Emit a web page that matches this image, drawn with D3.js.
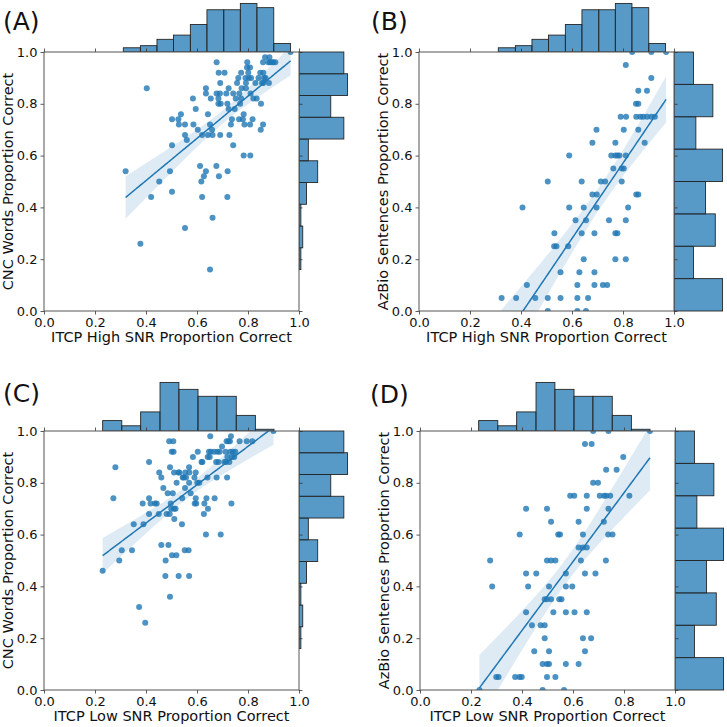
<!DOCTYPE html>
<html>
<head>
<meta charset="utf-8">
<script src="https://cdn.jsdelivr.net/npm/d3@7"></script>
<style>
	body { margin: 0; background: #fff; }
	text { font-family: "DejaVu Sans", sans-serif; fill: #111; }
</style>
</head>
<body>
<script>
//------------------------------ data ------------------------------

// (A) ITCP High SNR vs CNC Words
var panelA = [[0.32,0.54],[0.403,0.86],[0.378,0.26],[0.42,0.44],[0.452,0.50],[0.494,0.54],[0.502,0.46],[0.502,0.64],[0.502,0.74],[0.527,0.74],[0.529,0.72],[0.537,0.76],[0.553,0.72],[0.553,0.68],[0.56,0.66],[0.553,0.32],[0.584,0.82],[0.586,0.72],[0.595,0.78],[0.603,0.70],[0.612,0.56],[0.617,0.50],[0.62,0.44],[0.62,0.68],[0.627,0.52],[0.635,0.54],[0.635,0.86],[0.635,0.84],[0.643,0.76],[0.643,0.68],[0.651,0.72],[0.651,0.16],[0.654,0.82],[0.659,0.70],[0.661,0.68],[0.661,0.36],[0.676,0.56],[0.677,0.96],[0.677,0.84],[0.684,0.82],[0.684,0.80],[0.685,0.92],[0.686,0.52],[0.69,0.84],[0.691,0.88],[0.691,0.68],[0.693,0.80],[0.708,0.92],[0.715,0.84],[0.719,0.80],[0.72,0.54],[0.719,0.44],[0.724,0.86],[0.724,0.78],[0.727,0.68],[0.733,0.72],[0.737,0.74],[0.742,0.64],[0.742,0.84],[0.748,0.78],[0.752,0.82],[0.757,0.88],[0.762,0.90],[0.765,0.74],[0.766,0.84],[0.769,0.80],[0.773,0.82],[0.773,0.92],[0.775,0.86],[0.78,0.74],[0.783,0.60],[0.783,0.76],[0.786,0.72],[0.79,0.90],[0.792,0.86],[0.792,0.88],[0.796,0.94],[0.797,0.96],[0.801,0.92],[0.803,0.90],[0.808,0.72],[0.809,0.60],[0.808,0.94],[0.81,0.84],[0.812,0.90],[0.818,0.74],[0.821,0.82],[0.829,0.88],[0.834,0.82],[0.841,0.90],[0.848,0.92],[0.85,0.70],[0.851,0.80],[0.855,0.88],[0.859,0.96],[0.859,0.72],[0.86,0.92],[0.86,0.88],[0.863,0.90],[0.867,0.98],[0.869,0.90],[0.88,0.96],[0.884,0.98],[0.882,0.88],[0.886,0.96],[0.893,0.96],[0.899,0.96],[0.907,0.96],[0.967,1.00]];

// (B) ITCP High SNR vs AzBio Sentences
var panelB = [[0.324,0.05],[0.381,0.05],[0.456,0.05],[0.505,0.05],[0.555,0.05],[0.621,0.05],[0.663,0.05],
	[0.505,0.0],[0.621,0.0],[0.655,0.0],
	[0.423,0.10],[0.621,0.10],[0.688,0.10],[0.721,0.10],[0.738,0.10],
	[0.555,0.15],[0.629,0.15],[0.688,0.15],
	[0.646,0.20],[0.770,0.20],[0.811,0.20],
	[0.530,0.25],[0.539,0.25],[0.585,0.25],
	[0.531,0.30],[0.638,0.30],[0.688,0.30],[0.770,0.30],[0.778,0.30],
	[0.614,0.35],[0.655,0.35],[0.745,0.35],[0.811,0.35],
	[0.406,0.40],[0.589,0.40],[0.646,0.40],[0.696,0.40],[0.820,0.40],
	[0.680,0.45],[0.697,0.45],[0.852,0.45],[0.860,0.45],
	[0.505,0.50],[0.638,0.50],[0.713,0.50],[0.730,0.50],[0.795,0.50],
	[0.762,0.55],[0.795,0.55],[0.803,0.55],
	[0.589,0.60],[0.754,0.60],[0.770,0.60],[0.778,0.60],[0.786,0.60],[0.811,0.60],
	[0.680,0.65],[0.770,0.65],[0.885,0.65],
	[0.696,0.70],[0.803,0.70],[0.860,0.70],
	[0.791,0.75],[0.812,0.75],[0.852,0.75],[0.868,0.75],[0.879,0.75],[0.894,0.75],[0.911,0.75],[0.925,0.75],
	[0.851,0.80],[0.860,0.80],
	[0.860,0.85],[0.894,0.85],
	[0.911,0.90],
	[0.811,0.95],
	[0.836,1.0],[0.911,1.0],[0.969,1.0]];

// (C) ITCP Low SNR vs CNC Words
var panelC = [[0.23,0.46],[0.272,0.74],[0.28,0.86],[0.295,0.50],[0.305,0.54],[0.345,0.54],[0.352,0.64],[0.373,0.32],[0.387,0.72],[0.39,0.64],[0.397,0.26],[0.412,0.88],[0.412,0.74],[0.412,0.68],[0.418,0.72],[0.435,0.72],[0.442,0.72],[0.45,0.68],[0.452,0.84],[0.46,0.82],[0.46,0.56],[0.468,0.78],[0.476,0.44],[0.477,0.50],[0.481,0.68],[0.485,0.76],[0.488,0.56],[0.491,0.96],[0.493,0.68],[0.494,0.86],[0.494,0.36],[0.497,0.72],[0.499,0.70],[0.501,0.92],[0.502,0.52],[0.505,0.76],[0.507,0.96],[0.508,0.92],[0.51,0.70],[0.51,0.84],[0.511,0.66],[0.516,0.70],[0.519,0.52],[0.52,0.80],[0.527,0.84],[0.528,0.44],[0.531,0.84],[0.541,0.64],[0.542,0.74],[0.544,0.82],[0.548,0.82],[0.552,0.54],[0.553,0.78],[0.554,0.84],[0.557,0.82],[0.567,0.54],[0.569,0.44],[0.569,0.86],[0.569,0.80],[0.57,0.84],[0.575,0.76],[0.584,0.90],[0.59,0.82],[0.591,0.72],[0.595,0.74],[0.595,0.84],[0.597,0.72],[0.601,0.80],[0.603,0.92],[0.609,0.80],[0.618,0.88],[0.621,0.88],[0.627,0.68],[0.629,0.72],[0.635,0.60],[0.637,0.74],[0.641,0.82],[0.642,0.90],[0.643,0.70],[0.647,0.92],[0.65,0.90],[0.652,0.98],[0.654,0.92],[0.667,0.92],[0.669,0.74],[0.675,0.88],[0.677,0.82],[0.68,0.92],[0.684,0.88],[0.689,0.92],[0.693,0.60],[0.698,0.94],[0.707,0.88],[0.712,0.92],[0.714,0.88],[0.716,0.96],[0.718,0.82],[0.719,0.90],[0.723,0.96],[0.727,0.88],[0.729,0.96],[0.731,0.92],[0.733,0.98],[0.735,0.72],[0.737,0.90],[0.741,0.92],[0.746,0.90],[0.75,0.92],[0.767,0.96],[0.795,0.96],[0.817,0.96],[0.9,1.0]];

// (D) ITCP Low SNR vs AzBio Sentences
var panelD = [[0.679,1.0],[0.739,1.0],[0.902,1.0],
	[0.647,0.95],[0.673,0.95],
	[0.797,0.90],
	[0.730,0.85],[0.771,0.85],
	[0.679,0.80],[0.698,0.80],
	[0.589,0.75],[0.605,0.75],[0.654,0.75],[0.705,0.75],[0.722,0.75],[0.730,0.75],[0.746,0.75],[0.821,0.75],
	[0.416,0.70],[0.498,0.70],[0.654,0.70],[0.739,0.70],
	[0.514,0.65],[0.622,0.65],[0.721,0.65],
	[0.391,0.60],[0.542,0.60],[0.549,0.60],[0.639,0.60],[0.738,0.60],[0.755,0.60],
	[0.622,0.55],[0.639,0.55],[0.654,0.55],
	[0.275,0.50],[0.498,0.50],[0.514,0.50],[0.531,0.50],[0.631,0.50],[0.729,0.50],
	[0.416,0.45],[0.456,0.45],[0.572,0.45],[0.647,0.45],[0.688,0.45],
	[0.283,0.40],[0.424,0.40],[0.506,0.40],[0.572,0.40],[0.597,0.40],
	[0.489,0.35],[0.498,0.35],[0.514,0.35],[0.546,0.35],[0.555,0.35],
	[0.416,0.30],[0.523,0.30],[0.572,0.30],[0.606,0.30],[0.654,0.30],
	[0.439,0.25],[0.473,0.25],[0.489,0.25],
	[0.489,0.20],[0.639,0.20],[0.671,0.20],
	[0.448,0.15],[0.506,0.15],[0.647,0.15],
	[0.481,0.10],[0.498,0.10],[0.506,0.10],[0.572,0.10],[0.622,0.10],
	[0.299,0.05],[0.308,0.05],[0.373,0.05],[0.390,0.05],[0.399,0.05],[0.498,0.05],[0.531,0.05],
	[0.233,0.0],[0.481,0.0],[0.565,0.0]];

// marginal histograms (bin edges and counts)
var itcpHighEdges = [0.311,0.378,0.443,0.508,0.574,0.639,0.705,0.770,0.835,0.901,0.967];
var itcpHighCounts = [2,3,6,8,13,20,20,23,21,4];
var itcpLowEdges = [0.230,0.305,0.379,0.455,0.529,0.604,0.678,0.754,0.829,0.902];
var itcpLowCounts = [6,3,11,28,24,20,20,9,1];
var cncEdges = [0.16,0.244,0.328,0.412,0.496,0.58,0.664,0.748,0.832,0.916,1.0];
var cncCounts = [1,2,1,4,10,5,24,17,26,24];
var azbioEdges = [0,0.125,0.25,0.375,0.5,0.625,0.75,0.875,1.0];
var azbioCounts = [20,8,17,13,20,9,16,8];

var tickValues = [0, 0.2, 0.4, 0.6, 0.8, 1.0];

//------------------------------ layout ------------------------------
var W = 255, H = 259, MARG = 51;
var blue = "#1f77b4";

var panels = [
	{tag: "(A)", pts: panelA, left: 44, top: 52, tagX: 3, tagY: 30,
		xLabel: "ITCP High SNR Proportion Correct", yLabel: "CNC Words Proportion Correct",
		topEdges: itcpHighEdges, topCounts: itcpHighCounts, rightEdges: cncEdges, rightCounts: cncCounts},
	{tag: "(B)", pts: panelB, left: 419, top: 52, tagX: 371, tagY: 30,
		xLabel: "ITCP High SNR Proportion Correct", yLabel: "AzBio Sentences Proportion Correct",
		topEdges: itcpHighEdges, topCounts: itcpHighCounts, rightEdges: azbioEdges, rightCounts: azbioCounts},
	{tag: "(C)", pts: panelC, left: 44, top: 431, tagX: 3, tagY: 402,
		xLabel: "ITCP Low SNR Proportion Correct", yLabel: "CNC Words Proportion Correct",
		topEdges: itcpLowEdges, topCounts: itcpLowCounts, rightEdges: cncEdges, rightCounts: cncCounts},
	{tag: "(D)", pts: panelD, left: 420, top: 431, tagX: 370, tagY: 403,
		xLabel: "ITCP Low SNR Proportion Correct", yLabel: "AzBio Sentences Proportion Correct",
		topEdges: itcpLowEdges, topCounts: itcpLowCounts, rightEdges: azbioEdges, rightCounts: azbioCounts}
];

var svg = d3.select("body").append("svg")
	.attr("width", 727)
	.attr("height", 727)
	.style("background", "#fff");

//------------------------------ regression with 95% CI ------------------------------
function fitRegression(pts) {
	var xs = pts.map(d => d[0]), ys = pts.map(d => d[1]);
	var n = xs.length, mx = d3.mean(xs), my = d3.mean(ys);
	var sxx = d3.sum(xs, x => (x - mx) * (x - mx));
	var sxy = d3.sum(pts, d => (d[0] - mx) * (d[1] - my));
	var b = sxy / sxx, a = my - b * mx;
	var s = Math.sqrt(d3.sum(pts, d => Math.pow(d[1] - (a + b * d[0]), 2)) / (n - 2));
	var t = 1.98;
	var x0 = d3.min(xs), x1 = d3.max(xs);
	return d3.range(101).map(function(i) {
		var x = x0 + (x1 - x0) * i / 100;
		var yhat = a + b * x;
		var se = s * Math.sqrt(1 / n + (x - mx) * (x - mx) / sxx);
		return {x: x, y: yhat, lo: yhat - t * se, hi: yhat + t * se};
	});
}

//------------------------------ draw one joint plot ------------------------------
panels.forEach(function(p, k) {
	var g = svg.append("g").attr("transform", "translate(" + p.left + "," + p.top + ")");
	var x = d3.scaleLinear().domain([0, 1]).range([0, W]);
	var y = d3.scaleLinear().domain([0, 1]).range([H, 0]);

	// top marginal histogram
	var topCount = d3.scaleLinear().domain([0, d3.max(p.topCounts) * 1.05]).range([0, MARG]);
	g.append("g").selectAll("rect")
		.data(p.topCounts)
		.join("rect")
		.attr("x", (d, i) => x(p.topEdges[i]))
		.attr("width", (d, i) => x(p.topEdges[i + 1]) - x(p.topEdges[i]))
		.attr("y", d => -topCount(d))
		.attr("height", d => topCount(d))
		.attr("fill", blue).attr("fill-opacity", 0.75)
		.attr("stroke", "#262626").attr("stroke-width", 0.9);

	// right marginal histogram
	var rightCount = d3.scaleLinear().domain([0, d3.max(p.rightCounts) * 1.05]).range([0, MARG]);
	g.append("g").attr("transform", "translate(" + W + ",0)").selectAll("rect")
		.data(p.rightCounts)
		.join("rect")
		.attr("x", 0)
		.attr("width", d => rightCount(d))
		.attr("y", (d, i) => y(p.rightEdges[i + 1]))
		.attr("height", (d, i) => y(p.rightEdges[i]) - y(p.rightEdges[i + 1]))
		.attr("fill", blue).attr("fill-opacity", 0.75)
		.attr("stroke", "#262626").attr("stroke-width", 0.9);

	// main plot area
	g.append("rect").attr("width", W).attr("height", H).attr("fill", "#fff");
	g.append("clipPath").attr("id", "clip" + k)
		.append("rect").attr("width", W).attr("height", H);
	var plot = g.append("g").attr("clip-path", "url(#clip" + k + ")");

	plot.selectAll("circle")
		.data(p.pts)
		.join("circle")
		.attr("cx", d => x(d[0]))
		.attr("cy", d => y(d[1]))
		.attr("r", 3)
		.attr("fill", blue)
		.attr("fill-opacity", 0.8);

	var fit = fitRegression(p.pts);
	plot.append("path")
		.datum(fit)
		.attr("d", d3.area().x(d => x(d.x)).y0(d => y(d.lo)).y1(d => y(d.hi)))
		.attr("fill", blue).attr("fill-opacity", 0.15);
	plot.append("path")
		.datum(fit)
		.attr("d", d3.line().x(d => x(d.x)).y(d => y(d.y)))
		.attr("fill", "none").attr("stroke", blue).attr("stroke-width", 1.5);

	// axes
	var xAxis = g.append("g").attr("transform", "translate(0," + H + ")")
		.call(d3.axisBottom(x).tickValues(tickValues).tickFormat(d3.format(".1f")).tickSize(3.5).tickPadding(3.5).tickSizeOuter(0));
	var yAxis = g.append("g")
		.call(d3.axisLeft(y).tickValues(tickValues).tickFormat(d3.format(".1f")).tickSize(3.5).tickPadding(3).tickSizeOuter(0));
	var topTicks = g.append("g")
		.call(d3.axisTop(x).tickValues(tickValues).tickFormat("").tickSize(3.5).tickSizeOuter(0));
	var rightTicks = g.append("g").attr("transform", "translate(" + W + ",0)")
		.call(d3.axisRight(y).tickValues(tickValues).tickFormat("").tickSize(3.5).tickSizeOuter(0));
	[xAxis, yAxis, topTicks, rightTicks].forEach(function(ax) {
		ax.select(".domain").remove();
		ax.selectAll(".tick line").attr("stroke", "#333").attr("stroke-width", 0.8);
		ax.selectAll(".tick text").style("font-size", "13px").attr("fill", "#111");
	});

	// frame
	g.append("rect").attr("width", W).attr("height", H)
		.attr("fill", "none").attr("stroke", "#555").attr("stroke-width", 1);

	// labels
	g.append("text")
		.attr("x", W / 2).attr("y", H + 31)
		.attr("text-anchor", "middle")
		.style("font-size", "14.5px")
		.text(p.xLabel);
	g.append("text")
		.attr("transform", "translate(-31," + (H / 2) + ") rotate(-90)")
		.attr("text-anchor", "middle")
		.style("font-size", "14.5px")
		.text(p.yLabel);

	svg.append("text")
		.attr("x", p.tagX).attr("y", p.tagY)
		.style("font-size", "25px")
		.text(p.tag);
});
</script>
</body>
</html>
